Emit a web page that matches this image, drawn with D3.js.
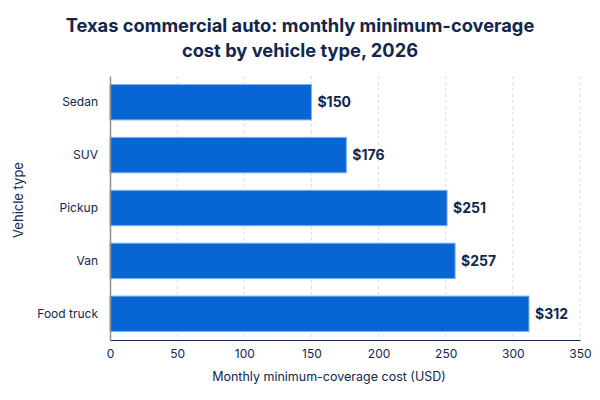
<!DOCTYPE html>
<html><head><meta charset="utf-8">
<script src="https://cdn.jsdelivr.net/npm/d3@7"></script>
<style>body{margin:0;background:#fff;font-family:Inter,"Noto Sans",sans-serif;}</style>
</head><body><svg id="c" width="600" height="400"></svg>
<script>
const categories = ["Sedan","SUV","Pickup","Van","Food truck"];
const values = [150,176,251,257,312];
const xTicks = [0,50,100,150,200,250,300,350];
const title = ["Texas commercial auto: monthly minimum-coverage","cost by vehicle type, 2026"];

const navy = "#13264d";
const svg = d3.select("#c");
svg.append("rect").attr("width",600).attr("height",400).attr("fill","#fff");
const x = d3.scaleLinear().domain([0,350]).range([110,580]);
const y = d3.scaleBand().domain(categories).range([76,340]).paddingInner(0.33).paddingOuter(0.16);

// grid
svg.append("g").selectAll("line").data(xTicks.slice(1)).join("line")
  .attr("x1",d=>x(d)).attr("x2",d=>x(d)).attr("y1",76).attr("y2",340)
  .attr("stroke","#d9dde3").attr("stroke-dasharray","3,3").attr("stroke-width",1);

// bars
svg.append("g").selectAll("rect").data(values).join("rect")
  .attr("x",x(0)).attr("y",(d,i)=>y(categories[i]))
  .attr("width",d=>x(d)-x(0)).attr("height",y.bandwidth())
  .attr("fill","#0865d4").attr("stroke","#7db3f0").attr("stroke-width",1);

// value labels
svg.append("g").selectAll("text").data(values).join("text")
  .attr("x",d=>x(d)+6).attr("y",(d,i)=>y(categories[i])+y.bandwidth()/2)
  .attr("dy","0.35em").attr("fill",navy).attr("font-size",14).attr("font-weight",700)
  .text(d=>"$"+d);

// x axis
const xa = svg.append("g").attr("transform","translate(0,340)")
  .call(d3.axisBottom(x).tickValues(xTicks).tickSize(0).tickPadding(9));
xa.select(".domain").attr("stroke",navy).attr("stroke-width",1.2);
xa.selectAll("text").attr("fill",navy).attr("font-size",12).attr("font-family","Inter,sans-serif");

// y axis
const ya = svg.append("g").attr("transform","translate(110,0)")
  .call(d3.axisLeft(y).tickSize(0).tickPadding(12));
ya.select(".domain").attr("stroke","#8a8f98").attr("stroke-width",1.5);
ya.selectAll("text").attr("fill",navy).attr("font-size",12).attr("font-family","Inter,sans-serif");

// axis titles
svg.append("text").attr("x",329).attr("y",381).attr("text-anchor","middle")
  .attr("fill",navy).attr("font-size",12.5).text("Monthly minimum-coverage cost (USD)");
svg.append("text").attr("transform","translate(23,200) rotate(-90)").attr("text-anchor","middle")
  .attr("fill",navy).attr("font-size",13).text("Vehicle type");

// title
svg.append("g").selectAll("text").data(title).join("text")
  .attr("x",300).attr("y",(d,i)=>32+i*25).attr("text-anchor","middle")
  .attr("fill",navy).attr("font-size",18.3).attr("font-weight",700).text(d=>d);
</script></body></html>
